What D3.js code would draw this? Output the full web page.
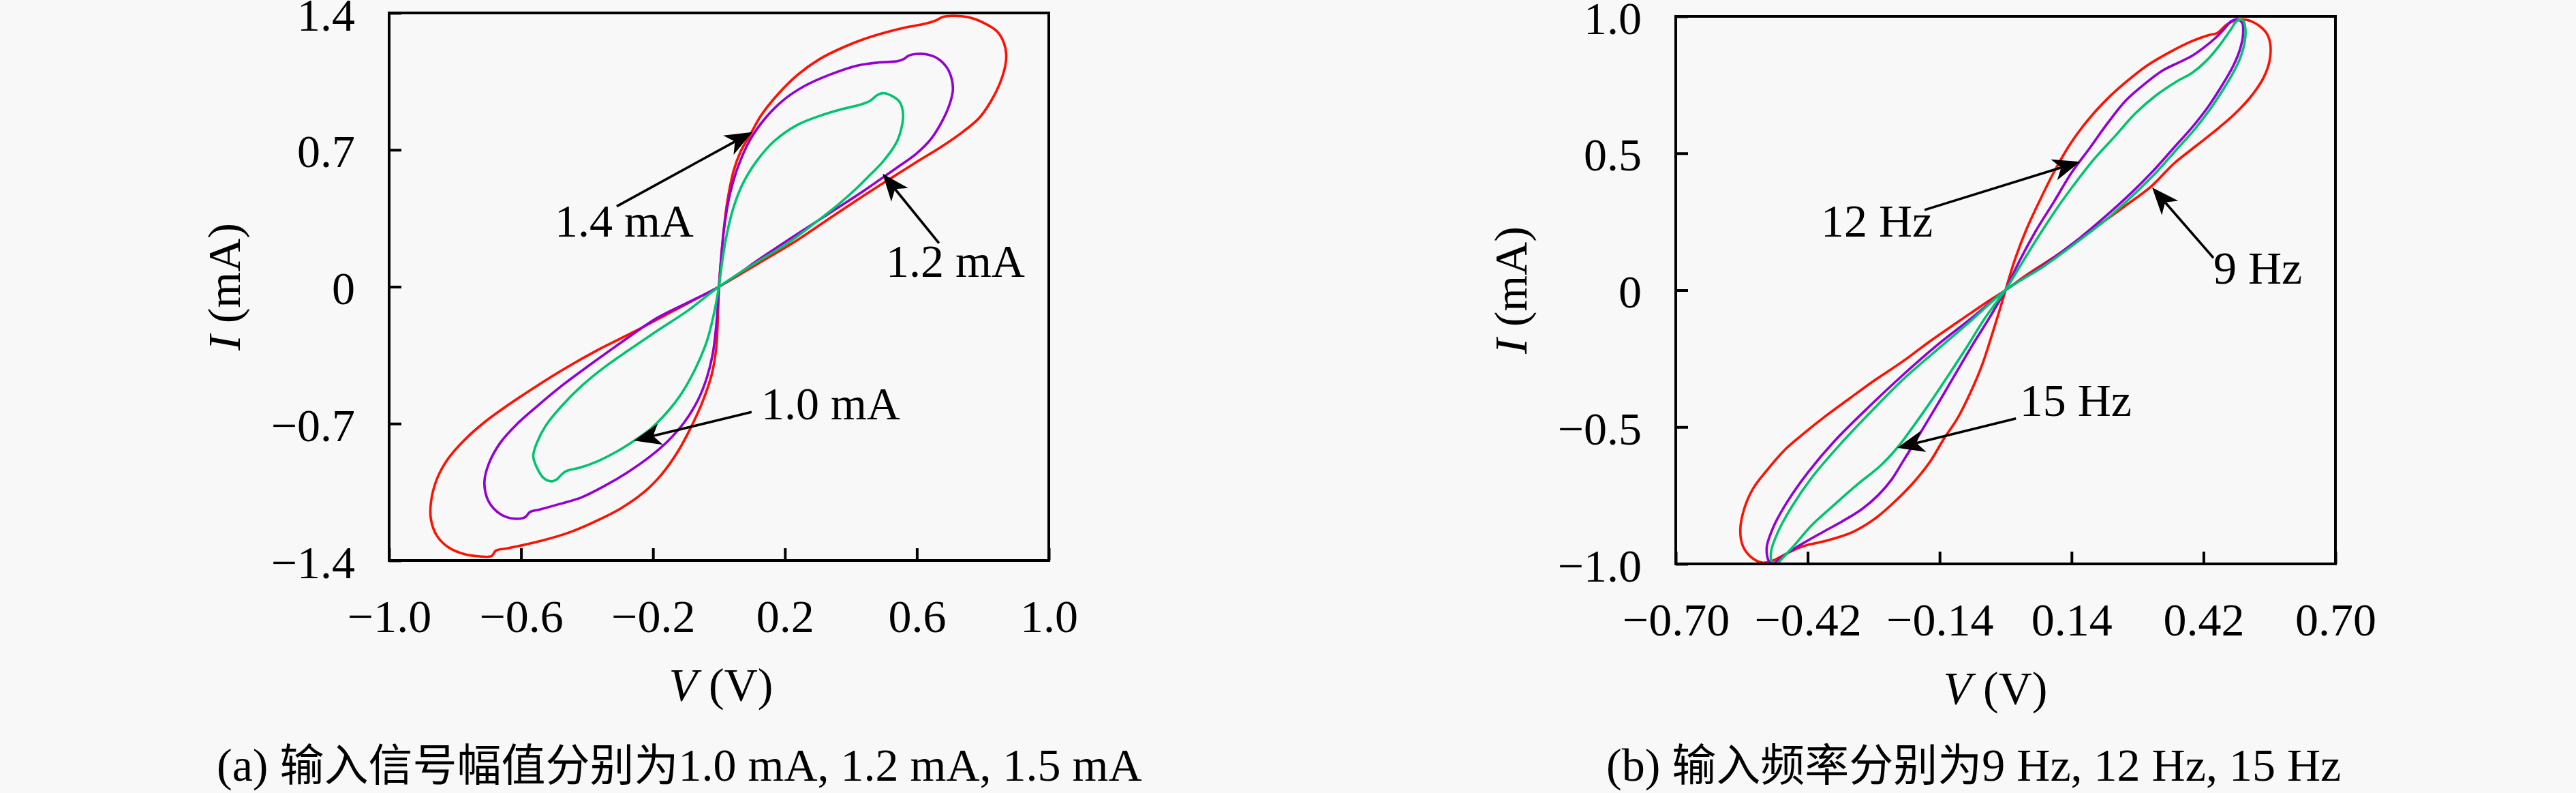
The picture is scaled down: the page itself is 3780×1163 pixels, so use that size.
<!DOCTYPE html>
<html>
<head>
<meta charset="utf-8">
<script src="https://cdn.jsdelivr.net/npm/d3@7"></script>
<style>
  html, body { margin: 0; padding: 0; background: #f8f8f8; }
  svg { display: block; }
  text { font-family: "Liberation Serif", "DejaVu Serif", serif; fill: #000; }
  .cjk { font-family: "Noto Sans CJK SC", sans-serif; }
</style>
</head>
<body>
<div id="chart"></div>
<script>
// ---- panel (a): input amplitude, V (V) vs I (mA) ----
const ampSeriesNames = ["1.4 mA", "1.2 mA", "1.0 mA"];

const loopAmp14 = [
  [0,0],[0.010,0.212],[0.024,0.421],[0.045,0.596],[0.065,0.689],[0.096,0.781],[0.127,0.874],
  [0.176,0.979],[0.238,1.083],[0.306,1.165],[0.375,1.223],[0.444,1.269],[0.513,1.304],[0.568,1.327],
  [0.623,1.344],[0.658,1.362],[0.678,1.379],[0.706,1.385],[0.754,1.379],[0.802,1.350],[0.844,1.304],
  [0.864,1.246],[0.871,1.188],[0.868,1.130],[0.851,1.037],[0.823,0.944],[0.789,0.863],[0.740,0.793],
  [0.671,0.712],[0.603,0.642],[0.527,0.561],[0.430,0.456],[0.327,0.340],[0.224,0.224],[0.120,0.120],
  [0,0],[-0.139,-0.124],[-0.256,-0.229],[-0.366,-0.322],[-0.463,-0.414],[-0.552,-0.507],[-0.635,-0.600],
  [-0.711,-0.693],[-0.773,-0.786],[-0.821,-0.879],[-0.855,-0.983],[-0.873,-1.100],[-0.873,-1.192],
  [-0.855,-1.274],[-0.821,-1.332],[-0.773,-1.367],[-0.725,-1.379],[-0.690,-1.378],[-0.676,-1.349],
  [-0.642,-1.338],[-0.559,-1.308],[-0.463,-1.262],[-0.380,-1.204],[-0.298,-1.134],[-0.229,-1.053],
  [-0.174,-0.960],[-0.125,-0.844],[-0.084,-0.716],[-0.050,-0.589],[-0.022,-0.449],[-0.008,-0.310],
  [-0.003,-0.136],[0,0]
];

const loopAmp12 = [
  [0,0],[0.007,0.154],[0.017,0.317],[0.034,0.479],[0.059,0.619],[0.093,0.747],[0.141,0.863],
  [0.196,0.955],[0.258,1.025],[0.334,1.083],[0.417,1.130],[0.486,1.147],[0.541,1.153],[0.561,1.165],
  [0.575,1.182],[0.596,1.190],[0.630,1.188],[0.665,1.165],[0.692,1.118],[0.706,1.060],[0.709,1.002],
  [0.699,0.932],[0.678,0.851],[0.644,0.758],[0.596,0.677],[0.548,0.619],[0.499,0.561],[0.430,0.480],
  [0.334,0.375],[0.238,0.270],[0.134,0.154],
  [0,0],[-0.091,-0.078],[-0.187,-0.159],[-0.298,-0.287],[-0.394,-0.403],[-0.477,-0.507],[-0.552,-0.612],
  [-0.614,-0.705],[-0.663,-0.798],[-0.697,-0.902],[-0.711,-0.995],[-0.704,-1.076],[-0.683,-1.134],
  [-0.649,-1.175],[-0.614,-1.187],[-0.587,-1.178],[-0.573,-1.152],[-0.545,-1.140],[-0.483,-1.111],
  [-0.415,-1.076],[-0.346,-1.018],[-0.277,-0.949],[-0.208,-0.867],[-0.153,-0.786],[-0.105,-0.693],
  [-0.063,-0.577],[-0.036,-0.461],[-0.019,-0.345],[-0.008,-0.194],[0,0]
];

const loopAmp10 = [
  [0,0],[0.010,0.131],[0.024,0.270],[0.045,0.410],[0.072,0.526],[0.114,0.642],[0.169,0.747],
  [0.238,0.828],[0.306,0.874],[0.375,0.909],[0.430,0.932],[0.458,0.950],[0.479,0.979],[0.496,0.990],
  [0.520,0.979],[0.548,0.944],[0.558,0.886],[0.554,0.816],[0.541,0.747],[0.520,0.689],[0.492,0.630],
  [0.458,0.572],[0.417,0.503],[0.362,0.421],[0.293,0.329],[0.210,0.224],[0.120,0.131],
  [0,0],[-0.091,-0.118],[-0.187,-0.225],[-0.270,-0.320],[-0.346,-0.410],[-0.415,-0.505],[-0.477,-0.610],
  [-0.525,-0.710],[-0.552,-0.798],[-0.563,-0.867],[-0.552,-0.925],[-0.532,-0.978],[-0.508,-0.995],
  [-0.490,-0.983],[-0.477,-0.960],[-0.463,-0.943],[-0.421,-0.925],[-0.366,-0.891],[-0.311,-0.844],
  [-0.256,-0.786],[-0.208,-0.728],[-0.160,-0.647],[-0.112,-0.542],[-0.070,-0.414],[-0.036,-0.275],
  [-0.015,-0.136],[0,0]
];

const ampXTicks = [-1.0, -0.6, -0.2, 0.2, 0.6, 1.0];
const ampXTickLabels = ["\u22121.0", "\u22120.6", "\u22120.2", "0.2", "0.6", "1.0"];
const ampYTicks = [-1.4, -0.7, 0, 0.7, 1.4];
const ampYTickLabels = ["\u22121.4", "\u22120.7", "0", "0.7", "1.4"];

// ---- panel (b): input frequency ----
const freqSeriesNames = ["9 Hz", "12 Hz", "15 Hz"];

const loopFreq9 = [
  [0,0],[0.020,0.113],[0.044,0.221],[0.073,0.329],[0.102,0.429],[0.135,0.528],[0.174,0.620],
  [0.213,0.694],[0.256,0.761],[0.299,0.819],[0.348,0.869],[0.396,0.910],[0.430,0.931],[0.449,0.939],
  [0.468,0.968],[0.487,0.985],[0.512,0.987],[0.536,0.968],[0.555,0.935],[0.562,0.894],[0.560,0.836],
  [0.548,0.778],[0.526,0.719],[0.492,0.653],[0.454,0.595],[0.405,0.528],[0.357,0.462],[0.309,0.379],
  [0.251,0.304],[0.184,0.221],[0.111,0.130],[0.044,0.055],
  [0,0],[-0.040,-0.044],[-0.097,-0.111],[-0.160,-0.186],[-0.218,-0.260],[-0.276,-0.327],[-0.329,-0.393],
  [-0.382,-0.460],[-0.430,-0.526],[-0.469,-0.584],[-0.507,-0.659],[-0.536,-0.725],[-0.555,-0.800],
  [-0.563,-0.875],[-0.558,-0.933],[-0.541,-0.974],[-0.517,-0.995],[-0.498,-0.991],[-0.469,-0.966],
  [-0.449,-0.949],[-0.425,-0.933],[-0.382,-0.916],[-0.324,-0.883],[-0.276,-0.833],[-0.232,-0.767],
  [-0.194,-0.700],[-0.160,-0.626],[-0.131,-0.543],[-0.102,-0.468],[-0.073,-0.368],[-0.049,-0.269],
  [-0.030,-0.169],[-0.015,-0.086],[0,0]
];

const loopFreq12 = [
  [0,0],[0.029,0.105],[0.063,0.213],[0.102,0.321],[0.140,0.429],[0.179,0.520],[0.217,0.611],
  [0.256,0.694],[0.295,0.753],[0.333,0.802],[0.367,0.831],[0.396,0.856],[0.420,0.885],[0.444,0.919],
  [0.463,0.952],[0.478,0.981],[0.492,0.989],[0.502,0.977],[0.504,0.935],[0.497,0.877],[0.483,0.819],
  [0.458,0.744],[0.430,0.670],[0.396,0.595],[0.357,0.520],[0.314,0.437],[0.266,0.354],[0.213,0.271],
  [0.150,0.180],[0.078,0.088],
  [0,0],[-0.073,-0.103],[-0.146,-0.202],[-0.218,-0.310],[-0.290,-0.426],[-0.363,-0.551],[-0.420,-0.667],
  [-0.464,-0.775],[-0.493,-0.866],[-0.507,-0.941],[-0.502,-0.991],[-0.493,-0.999],[-0.483,-0.987],
  [-0.464,-0.962],[-0.430,-0.925],[-0.387,-0.883],[-0.343,-0.841],[-0.305,-0.800],[-0.271,-0.750],
  [-0.242,-0.692],[-0.218,-0.626],[-0.194,-0.559],[-0.165,-0.476],[-0.136,-0.393],[-0.102,-0.293],
  [-0.068,-0.194],[-0.035,-0.103],[0,0]
];

const loopFreq15 = [
  [0,0],[0.034,0.097],[0.073,0.205],[0.111,0.304],[0.150,0.396],[0.188,0.479],[0.232,0.562],
  [0.275,0.645],[0.319,0.711],[0.362,0.761],[0.396,0.794],[0.425,0.836],[0.454,0.894],[0.478,0.952],
  [0.492,0.985],[0.504,0.985],[0.509,0.952],[0.507,0.902],[0.497,0.844],[0.483,0.794],[0.463,0.736],
  [0.434,0.661],[0.401,0.587],[0.362,0.512],[0.319,0.429],[0.270,0.346],[0.217,0.263],[0.155,0.180],
  [0.082,0.088],
  [0,0],[-0.073,-0.111],[-0.146,-0.219],[-0.218,-0.327],[-0.285,-0.443],[-0.353,-0.567],[-0.411,-0.684],
  [-0.454,-0.792],[-0.483,-0.883],[-0.498,-0.958],[-0.495,-0.995],[-0.486,-0.999],[-0.473,-0.978],
  [-0.449,-0.933],[-0.411,-0.858],[-0.363,-0.783],[-0.314,-0.709],[-0.266,-0.642],[-0.230,-0.576],
  [-0.194,-0.493],[-0.160,-0.410],[-0.121,-0.310],[-0.083,-0.210],[-0.044,-0.103],[0,0]
];

const freqXTicks = [-0.70, -0.42, -0.14, 0.14, 0.42, 0.70];
const freqXTickLabels = ["\u22120.70", "\u22120.42", "\u22120.14", "0.14", "0.42", "0.70"];
const freqYTicks = [-1.0, -0.5, 0, 0.5, 1.0];
const freqYTickLabels = ["\u22121.0", "\u22120.5", "0", "0.5", "1.0"];

const seriesColors = ["#ff1000", "#9400d3", "#00c36f"]; // red, purple, green

// ---------------------------------------------------------------
const W = 3780, H = 1163;
const FONT = 68;

const svg = d3.select("#chart").append("svg")
  .attr("width", W)
  .attr("height", H);

svg.append("rect")
  .attr("width", W)
  .attr("height", H)
  .attr("fill", "#f8f8f8");

function drawArrow(g, x1, y1, x2, y2) {
  const ang = Math.atan2(y2 - y1, x2 - x1);
  const L = 40, hw = 16, notch = 11;
  const c = Math.cos(ang), s = Math.sin(ang);
  const rot = ([px, py]) => [x2 + px * c - py * s, y2 + px * s + py * c];
  const head = [[0, 0], [-L, -hw], [-L + notch, 0], [-L, hw]].map(rot);
  const back = head[2];

  g.append("line")
    .attr("x1", x1).attr("y1", y1)
    .attr("x2", back[0]).attr("y2", back[1])
    .attr("stroke", "#000")
    .attr("stroke-width", 3.6);

  g.append("path")
    .attr("d", "M" + head.map(p => p.join(",")).join("L") + "Z")
    .attr("fill", "#000");
}

function drawPanel(cfg) {
  const x = d3.scaleLinear().domain(cfg.xDomain).range([0, cfg.width]);
  const y = d3.scaleLinear().domain(cfg.yDomain).range([cfg.height, 0]);

  const g = svg.append("g")
    .attr("transform", `translate(${cfg.left},${cfg.top})`);

  // curves
  const line = d3.line()
    .x(d => x(d[0]))
    .y(d => y(d[1]))
    .curve(d3.curveCatmullRom.alpha(0.5));

  cfg.series.forEach((loop, i) => {
    g.append("path")
      .datum(loop)
      .attr("d", line)
      .attr("fill", "none")
      .attr("stroke", seriesColors[i])
      .attr("stroke-width", 3.6)
      .attr("stroke-linejoin", "round");
  });

  // axes, ticks pointing inward
  const xAxis = d3.axisBottom(x)
    .tickValues(cfg.xTicks)
    .tickFormat((d, i) => cfg.xTickLabels[i])
    .tickSizeInner(-18)
    .tickSizeOuter(0);

  const gx = g.append("g")
    .attr("transform", `translate(0,${cfg.height})`)
    .call(xAxis);
  gx.select(".domain").remove();
  gx.selectAll(".tick line").attr("stroke", "#000").attr("stroke-width", 4);
  gx.selectAll(".tick text")
    .attr("y", 105)
    .attr("dy", null)
    .attr("font-size", FONT);

  const yAxis = d3.axisLeft(y)
    .tickValues(cfg.yTicks)
    .tickFormat((d, i) => cfg.yTickLabels[i])
    .tickSizeInner(-18)
    .tickSizeOuter(0);

  const gy = g.append("g").call(yAxis);
  gy.select(".domain").remove();
  gy.selectAll(".tick line").attr("stroke", "#000").attr("stroke-width", 4);
  gy.selectAll(".tick text")
    .attr("x", -50)
    .attr("dy", "0.37em")
    .attr("font-size", FONT);

  // frame
  g.append("rect")
    .attr("width", cfg.width)
    .attr("height", cfg.height)
    .attr("fill", "none")
    .attr("stroke", "#000")
    .attr("stroke-width", 4);

  // annotations
  cfg.notes.forEach(n => {
    drawArrow(g, x(n.from[0]), y(n.from[1]), x(n.to[0]), y(n.to[1]));
    g.append("text")
      .attr("x", x(n.at[0]))
      .attr("y", y(n.at[1]))
      .attr("font-size", FONT)
      .text(n.text);
  });

  // axis titles
  const yt = g.append("text")
    .attr("transform", `translate(-219,${cfg.height / 2}) rotate(-90)`)
    .attr("text-anchor", "middle")
    .attr("font-size", FONT);
  yt.append("tspan").attr("font-style", "italic").text("I");
  yt.append("tspan").text(" (mA)");

  const xt = g.append("text")
    .attr("x", cfg.xTitleX)
    .attr("y", cfg.height + 205)
    .attr("text-anchor", "middle")
    .attr("font-size", FONT);
  xt.append("tspan").attr("font-style", "italic").text("V");
  xt.append("tspan").text(" (V)");

  // caption
  const cap = svg.append("text")
    .attr("x", cfg.captionX)
    .attr("y", 1145)
    .attr("font-size", FONT);
  cap.append("tspan").text(cfg.caption[0]);
  cap.append("tspan").attr("class", "cjk").attr("font-size", 65).text(cfg.caption[1]);
  cap.append("tspan").text(cfg.caption[2]);
}

drawPanel({
  left: 571, top: 19, width: 968, height: 803,
  xDomain: [-1, 1], yDomain: [-1.4, 1.4],
  xTicks: ampXTicks, xTickLabels: ampXTickLabels,
  yTicks: ampYTicks, yTickLabels: ampYTickLabels,
  series: [loopAmp14, loopAmp12, loopAmp10],
  notes: [
    { text: ampSeriesNames[0], at: [-0.498, 0.258], from: [-0.310, 0.411], to: [0.101, 0.791] },
    { text: ampSeriesNames[1], at: [0.506, 0.052], from: [0.667, 0.223], to: [0.496, 0.578] },
    { text: ampSeriesNames[2], at: [0.128, -0.679], from: [0.099, -0.641], to: [-0.258, -0.787] }
  ],
  xTitleX: 487,
  captionX: 318,
  caption: ["(a) ", "输入信号幅值分别为", "1.0 mA, 1.2 mA, 1.5 mA"]
});

drawPanel({
  left: 2459, top: 24, width: 968, height: 803,
  xDomain: [-0.7, 0.7], yDomain: [-1, 1],
  xTicks: freqXTicks, xTickLabels: freqXTickLabels,
  yTicks: freqYTicks, yTickLabels: freqYTickLabels,
  series: [loopFreq9, loopFreq12, loopFreq15],
  notes: [
    { text: freqSeriesNames[1], at: [-0.392, 0.196], from: [-0.172, 0.293], to: [0.158, 0.469] },
    { text: freqSeriesNames[0], at: [0.441, 0.024], from: [0.441, 0.118], to: [0.311, 0.375] },
    { text: freqSeriesNames[2], at: [0.030, -0.460], from: [0.022, -0.469], to: [-0.230, -0.576] }
  ],
  xTitleX: 469,
  captionX: 2357,
  caption: ["(b) ", "输入频率分别为", "9 Hz, 12 Hz, 15 Hz"]
});
</script>
</body>
</html>
